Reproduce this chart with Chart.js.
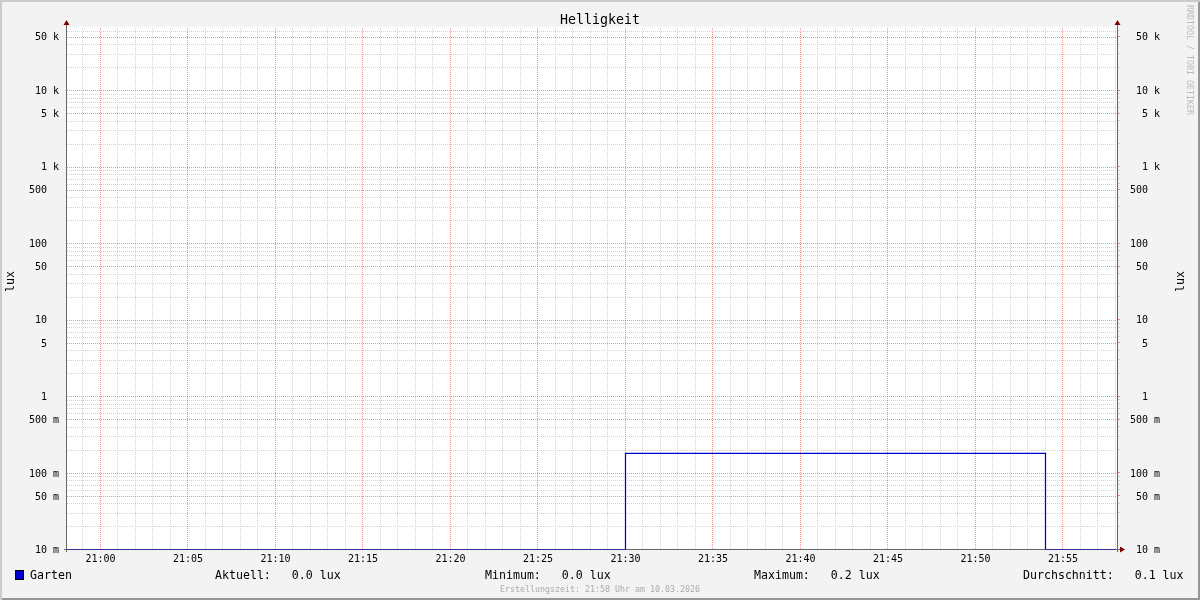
<!DOCTYPE html>
<html>
  <head>
    <title>Helligkeit</title>
    <script src="https://cdn.jsdelivr.net/npm/chart.js"></script>
    <style>
      body {
        margin: 0;
      }
      .frame {
        background: #f3f3f3;
        box-shadow: inset 2px 2px 0 #cbcbcb, inset -2px -2px 0 #969696;
        font-family: 'DejaVu Sans Mono', monospace;
        height: 600px;
        overflow: hidden;
        position: relative;
        width: 1200px;
      }
      canvas {
        left: 0;
        position: absolute;
        top: 0;
      }
      .txt {
        color: #000;
        position: absolute;
        white-space: pre;
      }
      .title {
        font-size: 13.3px;
        left: 0;
        line-height: 16px;
        text-align: center;
        top: 12px;
        width: 1200px;
      }
      .unit {
        font-size: 11.6px;
        line-height: 14px;
        top: 271px;
        transform: rotate(180deg);
        writing-mode: vertical-rl;
      }
      .legend {
        font-size: 11.6px;
        line-height: 14px;
        top: 568px;
      }
      .swatch {
        background: #0000cc;
        border: 1px solid #000;
        box-sizing: border-box;
        height: 10px;
        left: 15px;
        position: absolute;
        top: 570px;
        width: 9px;
      }
      .small {
        color: #aaa;
        font-size: 8.3px;
        line-height: 10px;
      }
    </style>
  </head>
  <body>
    <div class="frame">
      <canvas id="chart" width="1200" height="600"></canvas>
      <div class="txt title">Helligkeit</div>
      <div class="txt unit" style="left: 3px;">lux</div>
      <div class="txt unit" style="left: 1173px;">lux</div>
      <div class="txt small" style="left: 1185px; top: 5px; writing-mode: vertical-rl; color: #bbb;">RRDTOOL / TOBI OETIKER</div>
      <div class="swatch"></div>
      <div class="txt legend" style="left: 30px;">Garten</div>
      <div class="txt legend" style="left: 215px;">Aktuell:   0.0 lux</div>
      <div class="txt legend" style="left: 485px;">Minimum:   0.0 lux</div>
      <div class="txt legend" style="left: 754px;">Maximum:   0.2 lux</div>
      <div class="txt legend" style="left: 1023px;">Durchschnitt:   0.1 lux</div>
      <div class="txt small" style="left: 0; width: 1200px; text-align: center; top: 584px;">Erstellungszeit: 21:58 Uhr am 10.03.2026</div>
    </div>

    <script>
      // minutes relative to 21:00, one sample per minute
      const minutes = [-2, -1, 0, 1, 2, 3, 4, 5, 6, 7, 8, 9, 10, 11, 12, 13, 14, 15, 16, 17, 18, 19,
        20, 21, 22, 23, 24, 25, 26, 27, 28, 29, 30, 31, 32, 33, 34, 35, 36, 37, 38, 39,
        40, 41, 42, 43, 44, 45, 46, 47, 48, 49, 50, 51, 52, 53, 54, 55, 56, 57, 58]
      const garten = [0, 0, 0, 0, 0, 0, 0, 0, 0, 0, 0, 0, 0, 0, 0, 0, 0, 0, 0, 0, 0, 0,
        0, 0, 0, 0, 0, 0, 0, 0, 0, 0, 0.18, 0.18, 0.18, 0.18, 0.18, 0.18, 0.18, 0.18, 0.18, 0.18,
        0.18, 0.18, 0.18, 0.18, 0.18, 0.18, 0.18, 0.18, 0.18, 0.18, 0.18, 0.18, 0.18, 0.18, 0, 0, 0, 0, 0]

      const yLabelValues = [0.01, 0.05, 0.1, 0.5, 1, 5, 10, 50, 100, 500, 1000, 5000, 10000, 50000]
      const yLabelTexts = ['10 m', '50 m', '100 m', '500 m', '1  ', '5  ', '10  ', '50  ', '100  ', '500  ', '1 k', '5 k', '10 k', '50 k']

      const Y_MIN = 0.01
      const Y_MAX = 67000
      const X_MIN = -1.914
      const X_MAX = 58.086

      const MAJOR = 'rgba(255, 0, 0, 0.45)'
      const MINOR = '#d2d2d2'
      const LINE = '#0000cc'
      const FONT = { family: 'DejaVu Sans Mono', size: 10 }

      // minor grid: 1..9 of every decade
      const yGrid = []
      for (let d = -2; d <= 4; d++) {
        for (let k = 1; k <= 9; k++) {
          const v = Number((k * Math.pow(10, d)).toPrecision(2))
          if (v <= Y_MAX) yGrid.push(v)
        }
      }
      const isMajorY = v => yLabelValues.some(m => Math.abs(m - v) / m < 1e-6)
      const yLabel = v => {
        const i = yLabelValues.findIndex(m => Math.abs(m - v) / m < 1e-6)
        return i >= 0 ? yLabelTexts[i] : ''
      }

      // dotted grid drawn through the scales, majors on top of minors
      const frame = {
        id: 'frame',
        beforeDraw(chart) {
          const { ctx, chartArea: a } = chart
          ctx.save()
          ctx.fillStyle = '#fff'
          ctx.fillRect(a.left, a.top, a.right - a.left, a.bottom - a.top)
          ctx.restore()
        },
        beforeDatasetsDraw(chart) {
          const { ctx, chartArea: a, scales } = chart
          const bottom = Math.floor(a.bottom)
          ctx.save()
          ctx.lineWidth = 1
          ctx.setLineDash([1, 1])
          for (const pass of [false, true]) {
            ctx.strokeStyle = pass ? MAJOR : MINOR
            ctx.beginPath()
            for (let m = -1; m <= 58; m++) {
              if ((m % 5 === 0) !== pass) continue
              const x = Math.floor(scales.x.getPixelForValue(m)) + 0.5
              ctx.moveTo(x, bottom)
              ctx.lineTo(x, a.top)
            }
            for (const v of yGrid) {
              if (isMajorY(v) !== pass) continue
              const y = Math.round(scales.y.getPixelForValue(v)) + 0.5
              if (y > bottom) continue
              ctx.moveTo(a.left, y)
              ctx.lineTo(a.right, y)
            }
            ctx.stroke()
          }
          ctx.setLineDash([])
          ctx.strokeStyle = '#666'
          ctx.beginPath()
          ctx.moveTo(a.left - 0.5, bottom + 3)
          ctx.lineTo(a.left - 0.5, a.top - 3)
          ctx.moveTo(a.right + 0.5, bottom + 3)
          ctx.lineTo(a.right + 0.5, a.top - 3)
          ctx.moveTo(a.left - 3, bottom + 0.5)
          ctx.lineTo(a.right + 4, bottom + 0.5)
          ctx.stroke()
          ctx.restore()
        },
        afterDraw(chart) {
          const { ctx, chartArea: a } = chart
          const bottom = Math.floor(a.bottom)
          ctx.save()
          ctx.fillStyle = '#7f0000'
          for (const x of [a.left - 0.5, a.right + 0.5]) {
            ctx.beginPath()
            ctx.moveTo(x, a.top - 7)
            ctx.lineTo(x - 3, a.top - 2)
            ctx.lineTo(x + 3, a.top - 2)
            ctx.closePath()
            ctx.fill()
          }
          ctx.beginPath()
          ctx.moveTo(a.right + 8, bottom + 0.5)
          ctx.lineTo(a.right + 3, bottom - 2.5)
          ctx.lineTo(a.right + 3, bottom + 3.5)
          ctx.closePath()
          ctx.fill()
          ctx.restore()
        }
      }

      const ctx = document.getElementById('chart').getContext('2d')
      new Chart(ctx, {
        type: 'line',
        data: {
          datasets: [{
            label: 'Garten',
            data: minutes.map((m, i) => ({ x: m, y: Math.max(garten[i], Y_MIN) })),
            borderColor: LINE,
            borderWidth: 1.25,
            pointRadius: 0,
            stepped: 'before',
            fill: false
          }]
        },
        options: {
          responsive: false,
          animation: false,
          layout: {
            padding: { left: 0, right: 40, top: 27, bottom: 34.5 }
          },
          plugins: {
            legend: { display: false },
            tooltip: { enabled: false },
            title: { display: false }
          },
          scales: {
            x: {
              type: 'linear',
              min: X_MIN,
              max: X_MAX,
              afterBuildTicks: scale => {
                scale.ticks = []
                for (let m = -1; m <= 58; m++) scale.ticks.push({ value: m })
              },
              afterFit: scale => { scale.height = 16 },
              border: { display: false },
              grid: { display: false, drawTicks: false },
              ticks: {
                autoSkip: false,
                maxRotation: 0,
                padding: 4,
                color: '#000',
                font: FONT,
                callback: v => v % 5 === 0 ? '21:' + String(v).padStart(2, '0') : ''
              }
            },
            y: {
              type: 'logarithmic',
              position: 'left',
              min: Y_MIN,
              max: Y_MAX,
              afterBuildTicks: scale => { scale.ticks = yGrid.map(v => ({ value: v })) },
              afterFit: scale => { scale.width = 67 },
              border: { display: false },
              grid: { display: false, drawTicks: false },
              ticks: {
                autoSkip: false,
                padding: 8,
                labelOffset: 1,
                color: '#000',
                font: FONT,
                callback: v => yLabel(v)
              }
            },
            y2: {
              type: 'logarithmic',
              position: 'right',
              min: Y_MIN,
              max: Y_MAX,
              afterBuildTicks: scale => { scale.ticks = yGrid.map(v => ({ value: v })) },
              afterFit: scale => { scale.width = 43 },
              border: { display: false },
              grid: {
                drawOnChartArea: false,
                drawTicks: true,
                tickLength: 3,
                color: c => (c.tick && isMajorY(c.tick.value)) ? MAJOR : MINOR
              },
              ticks: {
                autoSkip: false,
                crossAlign: 'far',
                padding: 6,
                labelOffset: 1,
                color: '#000',
                font: FONT,
                callback: v => yLabel(v)
              }
            }
          }
        },
        plugins: [frame]
      })
    </script>
  </body>
</html>
